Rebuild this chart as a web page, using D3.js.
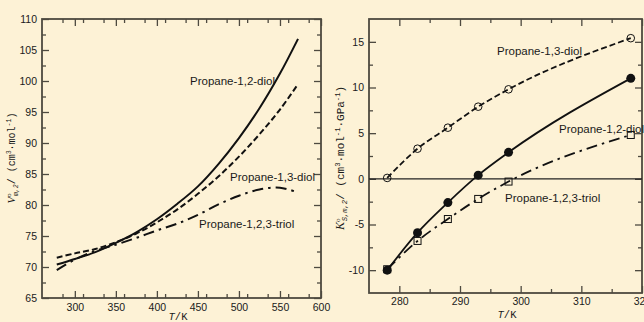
<!DOCTYPE html>
<html><head><meta charset="utf-8">
<script src="https://cdn.jsdelivr.net/npm/d3@7"></script>
<style>
html,body{margin:0;padding:0;background:#fdf2d6;}
svg{display:block;}
text{font-family:"Liberation Sans",Arial,sans-serif;fill:#1a1a1a;}
</style></head>
<body><svg id="c" width="644" height="322"></svg>
<script>
// ---- Data ----
const leftT = [278, 300, 325, 350, 375, 400, 425, 450, 475, 500, 525, 550, 572];
const vDiol12 = [70.4, 71.3, 72.4, 73.9, 75.6, 77.7, 80.2, 83.0, 86.6, 90.8, 95.6, 101.2, 106.8];
const vDiol13 = [71.5, 72.2, 72.9, 74.0, 75.4, 77.2, 79.3, 81.8, 84.6, 87.8, 91.4, 95.4, 99.5];
const vTriol = [69.5, 71.2, 72.6, 73.6, 74.7, 75.9, 77.0, 78.4, 80.1, 81.5, 82.5, 82.8, 82.0];

const rightT = [278, 283, 288, 293, 298, 318.15];
const kDiol13 = [0.1, 3.3, 5.6, 7.9, 9.8, 15.4];
const kDiol12 = [-10.0, -5.9, -2.6, 0.4, 2.9, 11.0];
const kTriol = [-9.9, -6.8, -4.4, -2.2, -0.3, 4.8];

const leftXTicks = [300, 350, 400, 450, 500, 550, 600];
const leftYTicks = [65, 70, 75, 80, 85, 90, 95, 100, 105, 110];
const rightXTicks = [280, 290, 300, 310, 320];
const rightYTicks = [-10, -5, 0, 5, 10, 15];

const svg = d3.select("#c");
const frameColor = "#4e4a40";
const fmt = d => String(d);
const MONO = "Liberation Mono, DejaVu Sans Mono, monospace";
const SERIF = "Liberation Serif, serif";

function panel(opt) {
  const g = svg.append("g");
  const x = d3.scaleLinear().domain(opt.xd).range([opt.l, opt.r]);
  const y = d3.scaleLinear().domain(opt.yd).range([opt.b, opt.t]);
  const minorX = d3.range(opt.xd[0], opt.xd[1] + 0.001, opt.xm).filter(v => !opt.xt.includes(v) && v > opt.xd[0] && v < opt.xd[1]);
  const minorY = d3.range(opt.yd[0], opt.yd[1] + 0.001, opt.ym).filter(v => !opt.yt.includes(v) && v > opt.yd[0] && v < opt.yd[1]);
  const style = sel => { sel.select(".domain").remove(); sel.selectAll("line").attr("stroke", frameColor).attr("stroke-width", 1.3); };
  g.append("g").attr("transform", `translate(0,${opt.b})`)
    .call(d3.axisBottom(x).tickValues(opt.xt).tickSize(-7).tickPadding(opt.xpad).tickFormat(fmt))
    .call(style).selectAll("text").attr("font-size", 10.5).attr("fill", "#1a1a1a").style("font-family", "Liberation Sans, Arial");
  g.append("g").attr("transform", `translate(0,${opt.b})`)
    .call(d3.axisBottom(x).tickValues(minorX).tickSize(-4).tickFormat("")).call(style);
  g.append("g").attr("transform", `translate(0,${opt.t})`)
    .call(d3.axisTop(x).tickValues(opt.xt).tickSize(-7).tickFormat("")).call(style);
  g.append("g").attr("transform", `translate(0,${opt.t})`)
    .call(d3.axisTop(x).tickValues(minorX).tickSize(-4).tickFormat("")).call(style);
  g.append("g").attr("transform", `translate(${opt.l},0)`)
    .call(d3.axisLeft(y).tickValues(opt.yt).tickSize(-7).tickPadding(5).tickFormat(fmt))
    .call(style).selectAll("text").attr("font-size", 10.5).attr("fill", "#1a1a1a").style("font-family", "Liberation Sans, Arial");
  g.append("g").attr("transform", `translate(${opt.l},0)`)
    .call(d3.axisLeft(y).tickValues(minorY).tickSize(-4).tickFormat("")).call(style);
  g.append("g").attr("transform", `translate(${opt.r},0)`)
    .call(d3.axisRight(y).tickValues(opt.yt).tickSize(-7).tickFormat("")).call(style);
  g.append("g").attr("transform", `translate(${opt.r},0)`)
    .call(d3.axisRight(y).tickValues(minorY).tickSize(-4).tickFormat("")).call(style);
  g.append("rect").attr("x", opt.l).attr("y", opt.t).attr("width", opt.r - opt.l).attr("height", opt.b - opt.t)
    .attr("fill", "none").attr("stroke", frameColor).attr("stroke-width", 1.8);
  return {g, x, y};
}

function axisLabel(x, y, size, sym, sub, units) {
  const t = svg.append("text").attr("transform", `translate(${x},${y}) rotate(-90)`)
    .attr("text-anchor", "middle").attr("font-size", size).style("font-family", MONO);
  const s = size * 0.65;
  t.append("tspan").attr("font-style", "italic").style("font-family", SERIF).attr("font-size", size * 1.1).text(sym);
  t.append("tspan").attr("font-size", s).style("font-family", SERIF).attr("dy", -4).text("o");
  t.append("tspan").attr("font-size", s).attr("dx", -s * 0.4).attr("dy", 7).attr("font-style", "italic").text(sub);
  t.append("tspan").attr("dy", -3).text("/ (cm");
  t.append("tspan").attr("font-size", s).attr("dy", -4).text("3");
  units.forEach(u => {
    t.append("tspan").attr("dy", 4).text("·" + u);
    t.append("tspan").attr("font-size", s).attr("dy", -4).text("-1");
  });
  t.append("tspan").attr("dy", 4).text(")");
}

// ---- Left panel ----
const L = panel({l: 42, r: 321, t: 19, b: 298, xd: [260, 600], yd: [65, 110],
  xt: leftXTicks, yt: leftYTicks, xm: 25, ym: 2.5, xpad: 6});
const lineL = d3.line().curve(d3.curveCatmullRom.alpha(0.5));
function leftSeries(vals, dash) {
  L.g.append("path").attr("d", lineL(leftT.map((t, i) => [L.x(t), L.y(vals[i])])))
    .attr("fill", "none").attr("stroke", "#111").attr("stroke-width", 2)
    .attr("stroke-dasharray", dash);
}
leftSeries(vDiol12, null);
leftSeries(vDiol13, "6,3");
leftSeries(vTriol, "11,5,2.5,5");

const lblL = [["Propane-1,2-diol", 190, 85], ["Propane-1,3-diol", 230, 181], ["Propane-1,2,3-triol", 199, 228]];
lblL.forEach(d => L.g.append("text").attr("x", d[1]).attr("y", d[2]).attr("font-size", 11.5).text(d[0]));

axisLabel(15, 158, 10, "V", "m,2", ["mol"]);

const xl1 = svg.append("text").attr("x", 178).attr("y", 320).attr("text-anchor", "middle")
  .attr("font-size", 10.5).style("font-family", MONO);
xl1.append("tspan").attr("font-style", "italic").text("T");
xl1.append("tspan").text("/K");

// ---- Right panel ----
const R = panel({l: 369, r: 642, t: 19, b: 293, xd: [275, 320], yd: [-12.5, 17.5],
  xt: rightXTicks, yt: rightYTicks, xm: 5, ym: 2.5, xpad: 5});
R.g.append("line").attr("x1", R.x(275)).attr("x2", R.x(320)).attr("y1", R.y(0)).attr("y2", R.y(0))
  .attr("stroke", "#222").attr("stroke-width", 1.2);
const lineR = d3.line().curve(d3.curveMonotoneX);
function rightSeries(vals, dash, marker) {
  const pts = rightT.map((t, i) => [R.x(t), R.y(vals[i])]);
  R.g.append("path").attr("d", lineR(pts)).attr("fill", "none").attr("stroke", "#111")
    .attr("stroke-width", 1.8).attr("stroke-dasharray", dash);
  pts.forEach(p => {
    if (marker === "circle") R.g.append("circle").attr("cx", p[0]).attr("cy", p[1]).attr("r", 3.8)
      .attr("fill", "none").attr("stroke", "#111").attr("stroke-width", 1);
    else if (marker === "dot") R.g.append("circle").attr("cx", p[0]).attr("cy", p[1]).attr("r", 4.5)
      .attr("fill", "#111");
    else R.g.append("rect").attr("x", p[0] - 3.5).attr("y", p[1] - 3.5).attr("width", 7).attr("height", 7)
      .attr("fill", "none").attr("stroke", "#111").attr("stroke-width", 1);
  });
}
rightSeries(kTriol, "11,5,2.5,5", "square");
rightSeries(kDiol13, "6,3", "circle");
rightSeries(kDiol12, null, "dot");

const lblR = [["Propane-1,3-diol", 497, 55], ["Propane-1,2-diol", 559, 133], ["Propane-1,2,3-triol", 505, 202]];
lblR.forEach(d => R.g.append("text").attr("x", d[1]).attr("y", d[2]).attr("font-size", 11.5).text(d[0]));

axisLabel(344, 158, 11, "K", "S,m,2", ["mol", "GPa"]);

const xl2 = svg.append("text").attr("x", 507).attr("y", 318).attr("text-anchor", "middle")
  .attr("font-size", 10.5).style("font-family", MONO);
xl2.append("tspan").attr("font-style", "italic").text("T");
xl2.append("tspan").text("/K");
</script></body></html>
